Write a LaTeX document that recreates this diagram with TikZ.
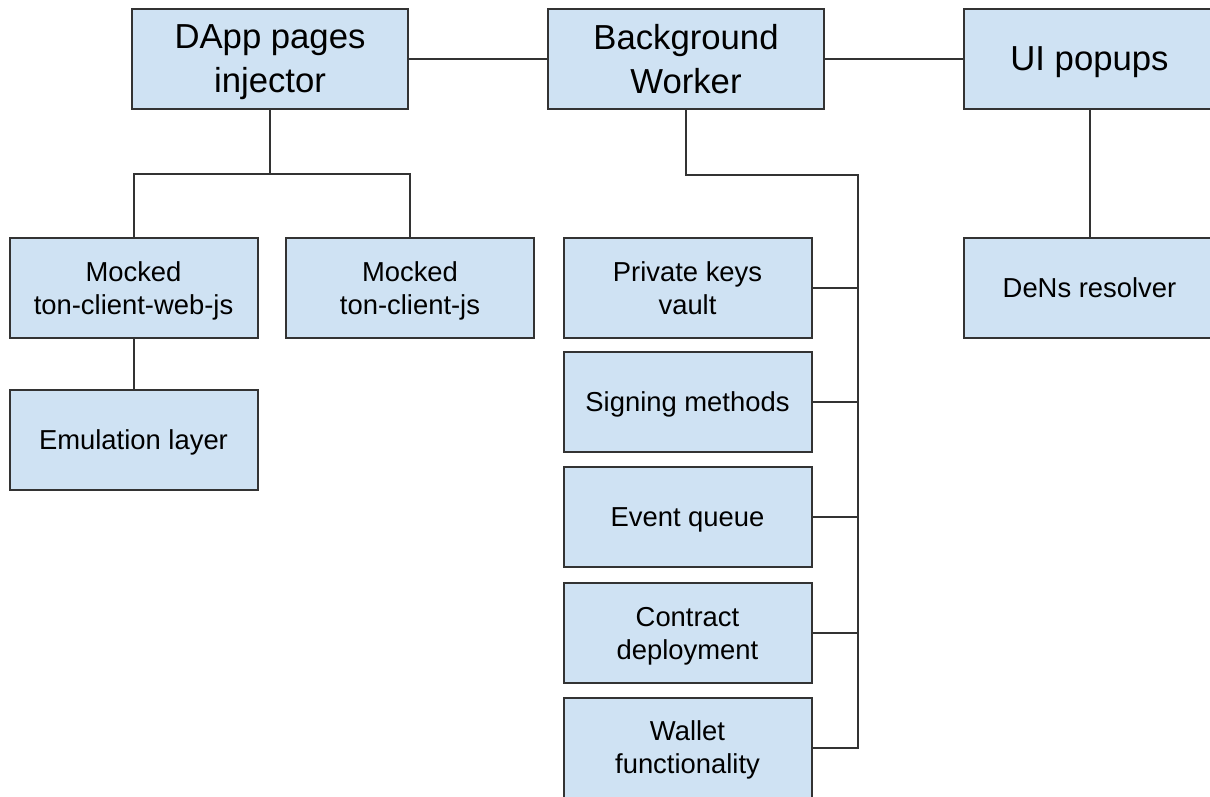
\documentclass[tikz,border=0pt]{standalone}
\usepackage{fontspec}
\setmainfont{Liberation Sans}
\definecolor{boxfill}{HTML}{CFE2F3}
\definecolor{boxline}{HTML}{333333}
\tikzset{
    block/.style={draw=boxline, line width=2pt, fill=boxfill, align=center, inner sep=0pt, text depth=0pt},
    bigblock/.style={block, minimum width=276pt, minimum height=100pt, font=\fontsize{34.7}{44}\selectfont},
    smallblock/.style={block, minimum width=248pt, minimum height=100pt, font=\fontsize{27.4}{33}\selectfont},
    link/.style={draw=boxline, line width=2pt}
}
\begin{document}
\begin{tikzpicture}[x=1pt, y=-1pt]

    \useasboundingbox (0,0) rectangle (1210,796);
    \clip (0,0) rectangle (1210,796);

    \node [bigblock] (dapp) at (270, 59) {DApp pages\\injector};
    \node [bigblock] (worker) at (686, 59) {Background\\Worker};
    \node [bigblock, minimum width=251pt] (ui) at (1089.5, 59) {UI popups};

    \node [smallblock] (webjs) at (133.5, 288) {Mocked\\ton-client-web-js};
    \node [smallblock] (clientjs) at (410, 288) {Mocked\\ton-client-js};
    \node [smallblock] (emul) at (133.5, 440) {Emulation layer};

    \node [smallblock] (keys) at (687.5, 288) {Private keys\\vault};
    \node [smallblock] (signing) at (687.5, 402) {Signing methods};
    \node [smallblock] (events) at (687.5, 517) {Event queue};
    \node [smallblock] (deploy) at (687.5, 633) {Contract\\deployment};
    \node [smallblock] (wallet) at (687.5, 747.5) {Wallet\\functionality};

    \node [smallblock, minimum width=251pt] (dens) at (1089.5, 288) {DeNs resolver};

    \coordinate (dsplit) at (270, 174);
    \coordinate (bus) at (858, 175);

    % top row
    \draw [link] (dapp.east) -- (worker.west);
    \draw [link] (worker.east) -- (ui.west);

    % injector side
    \draw [link] (dapp.south) -- (dsplit);
    \draw [link] (webjs.north) |- (dsplit) -| (clientjs.north);
    \draw [link] (webjs.south) -- (emul.north);

    % worker side
    \draw [link] (worker.south) |- (bus) |- (wallet.east);
    \foreach \part in {keys, signing, events, deploy}
        \draw [link] (\part.east) -- (\part.east -| bus);

    % popups side
    \draw [link] (ui.south) -- (dens.north);

\end{tikzpicture}
\end{document}
